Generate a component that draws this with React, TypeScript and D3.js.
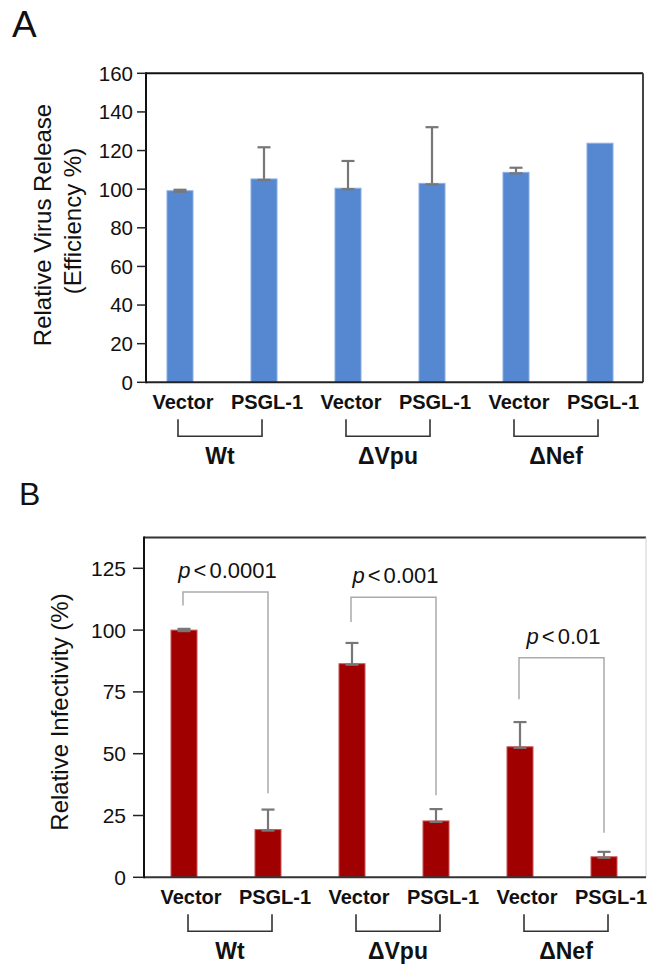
import * as d3 from "d3";

// categories
const groups = ["Wt", "ΔVpu", "ΔNef"];
const treatments = ["Vector", "PSGL-1"];
const keys = groups.flatMap((g) => treatments.map((t) => `${g}|${t}`));

// panel A: relative virus release (efficiency %)
const releaseValues = [99.2, 105.3, 100.5, 103.0, 108.7, 123.8];
const releaseErrors = [0.5, 16.4, 14.1, 29.1, 2.4, 0];
const releaseTicks = [0, 20, 40, 60, 80, 100, 120, 140, 160];

// panel B: relative infectivity (%)
const infectivityValues = [100, 19.3, 86.4, 22.8, 52.8, 8.3];
const infectivityErrors = [0.5, 8.1, 8.4, 4.8, 10.0, 2.0];
const infectivityTicks = [0, 25, 50, 75, 100, 125];

// significance brackets for panel B (in data units)
const pLabels = ["0.0001", "0.001", "0.01"];
const pBracketTop = [115.4, 113.3, 88.8];
const pLeftEnd = [110, 103.3, 72];
const pRightEnd = [34, 33.2, 18];

const FONT = "'Liberation Sans', Arial, Helvetica, sans-serif";

type PanelProps = {
  letter: string;
  letterX: number;
  letterY: number;
  letterSize: number;
  top: number;
  bottom: number;
  left: number;
  right: number;
  domainMax: number;
  ticks: number[];
  values: number[];
  errors: number[];
  color: string;
  edge: string;
  bandStart: number;
  labelDx: number;
  bracketDx: number;
  tickLen: number;
  tickPad: number;
  tickSize: number;
  yLabel: string[];
  yLabelX: number[];
  yLabelY: number[];
  yLabelSize: number;
  frame: { top: string; right: string; rightW: number; bottom: string };
  children?: (x: d3.ScaleBand<string>, y: d3.ScaleLinear<number, number>) => any;
};

function Panel(p: PanelProps) {
  const y = d3.scaleLinear().domain([0, p.domainMax]).range([p.bottom, p.top]);
  const x = d3
    .scaleBand<string>()
    .domain(keys)
    .range([p.bandStart, p.bandStart + 504])
    .paddingInner(0.69)
    .paddingOuter(0.345);
  const cx = (k: string) => (x(k) as number) + x.bandwidth() / 2;
  const capW = 6.5;

  return (
    <g fontFamily={FONT}>
      <text x={p.letterX} y={p.letterY} fontSize={p.letterSize} fill="#111">
        {p.letter}
      </text>

      {/* frame */}
      <line x1={p.left} x2={p.right} y1={p.top} y2={p.top} stroke={p.frame.top} strokeWidth={2} />
      <line x1={p.right} x2={p.right} y1={p.top} y2={p.bottom} stroke={p.frame.right} strokeWidth={p.frame.rightW} />

      {/* bars */}
      {keys.map((k, i) => (
        <rect
          key={k}
          x={x(k)}
          y={y(p.values[i])}
          width={x.bandwidth()}
          height={y(0) - y(p.values[i])}
          fill={p.color}
          stroke={p.edge}
          strokeWidth={1}
        />
      ))}

      {/* error bars */}
      {keys.map((k, i) =>
        p.errors[i] > 0 ? (
          <g key={k} stroke="#777" strokeWidth={2.2}>
            <line x1={cx(k)} x2={cx(k)} y1={y(p.values[i])} y2={y(p.values[i] + p.errors[i])} />
            <line x1={cx(k) - capW} x2={cx(k) + capW} y1={y(p.values[i] + p.errors[i])} y2={y(p.values[i] + p.errors[i])} />
            <line x1={cx(k) - capW} x2={cx(k) + capW} y1={y(p.values[i]) + 1} y2={y(p.values[i]) + 1} />
          </g>
        ) : null
      )}

      {p.children ? p.children(x, y) : null}

      {/* axes */}
      <line x1={p.left} x2={p.right} y1={p.bottom} y2={p.bottom} stroke={p.frame.bottom} strokeWidth={2} />
      <line x1={p.left} x2={p.left} y1={p.top - 1} y2={p.bottom + 1} stroke="#111" strokeWidth={2} />
      {p.ticks.map((t) => (
        <g key={t}>
          <line x1={p.left - p.tickLen} x2={p.left} y1={y(t)} y2={y(t)} stroke="#222" strokeWidth={1.5} />
          <text
            x={p.left - p.tickLen - p.tickPad}
            y={y(t)}
            dy="0.36em"
            textAnchor="end"
            fontSize={p.tickSize}
            fill="#111"
          >
            {t}
          </text>
        </g>
      ))}

      {/* y label */}
      {p.yLabel.map((s, i) => (
        <text
          key={s}
          transform={`translate(${p.yLabelX[i]},${p.yLabelY[i]}) rotate(-90)`}
          textAnchor="middle"
          fontSize={p.yLabelSize}
          fill="#111"
        >
          {s}
        </text>
      ))}

      {/* category labels */}
      {keys.map((k) => (
        <text
          key={k}
          x={cx(k) + p.labelDx}
          y={p.bottom + 27}
          textAnchor="middle"
          fontSize={20}
          fontWeight="bold"
          fill="#111"
        >
          {k.split("|")[1]}
        </text>
      ))}

      {/* group brackets */}
      {groups.map((g) => {
        const x1 = cx(`${g}|${treatments[0]}`) + p.bracketDx;
        const x2 = cx(`${g}|${treatments[1]}`) + p.bracketDx;
        const yt = p.bottom + 37;
        const yb = p.bottom + 54;
        return (
          <g key={g}>
            <path
              d={`M${x1},${yt}V${yb}H${x2}V${yt}`}
              fill="none"
              stroke="#333"
              strokeWidth={1.6}
            />
            <text
              x={(x1 + x2) / 2}
              y={p.bottom + 82}
              textAnchor="middle"
              fontSize={23}
              fontWeight="bold"
              fill="#111"
            >
              {g}
            </text>
          </g>
        );
      })}
    </g>
  );
}

export default function App() {
  return (
    <div style={{ position: "absolute", left: 0, top: 0 }}>
      <svg width={647} height={966} style={{ display: "block", background: "#fff" }}>
        <rect width={647} height={966} fill="#fff" />
        <Panel
          letter="A"
          letterX={12}
          letterY={37}
          letterSize={37}
          top={73.3}
          bottom={382.3}
          left={146}
          right={643}
          domainMax={160}
          ticks={releaseTicks}
          values={releaseValues}
          errors={releaseErrors}
          color="#5588d0"
          edge="#8fb0e3"
          bandStart={138}
          labelDx={3}
          bracketDx={-2}
          tickLen={9}
          tickPad={4}
          tickSize={20.5}
          yLabel={["Relative Virus Release", "(Efficiency %)"]}
          yLabelX={[51, 81]}
          yLabelY={[225, 221]}
          yLabelSize={24}
          frame={{ top: "#111", right: "#444", rightW: 2, bottom: "#222" }}
        />
        <Panel
          letter="B"
          letterX={19}
          letterY={505}
          letterSize={32}
          top={537.4}
          bottom={877.3}
          left={144}
          right={646}
          domainMax={137.5}
          ticks={infectivityTicks}
          values={infectivityValues}
          errors={infectivityErrors}
          color="#a10000"
          edge="#c65a5a"
          bandStart={142}
          labelDx={7}
          bracketDx={4}
          tickLen={11}
          tickPad={7}
          tickSize={21}
          yLabel={["Relative Infectivity (%)"]}
          yLabelX={[68]}
          yLabelY={[712]}
          yLabelSize={24}
          frame={{ top: "#333", right: "#d0d0d0", rightW: 1, bottom: "#333" }}
        >
          {(x, y) =>
            groups.map((g, i) => {
              const x1 = (x(`${g}|${treatments[0]}`) as number) + x.bandwidth() / 2 - 1;
              const x2 = (x(`${g}|${treatments[1]}`) as number) + x.bandwidth() / 2;
              const yt = y(pBracketTop[i]);
              return (
                <g key={g}>
                  <path
                    d={`M${x1},${y(pLeftEnd[i])}V${yt}H${x2}V${y(pRightEnd[i])}`}
                    fill="none"
                    stroke="#aaa"
                    strokeWidth={1.5}
                  />
                  <text
                    x={(x1 + x2) / 2 + 2}
                    y={yt - 14}
                    textAnchor="middle"
                    fontSize={22}
                    fill="#111"
                  >
                    <tspan fontStyle="italic">p</tspan>
                    <tspan dx={3}>{"<"}</tspan>
                    <tspan dx={3}>{pLabels[i]}</tspan>
                  </text>
                </g>
              );
            })
          }
        </Panel>
      </svg>
    </div>
  );
}
